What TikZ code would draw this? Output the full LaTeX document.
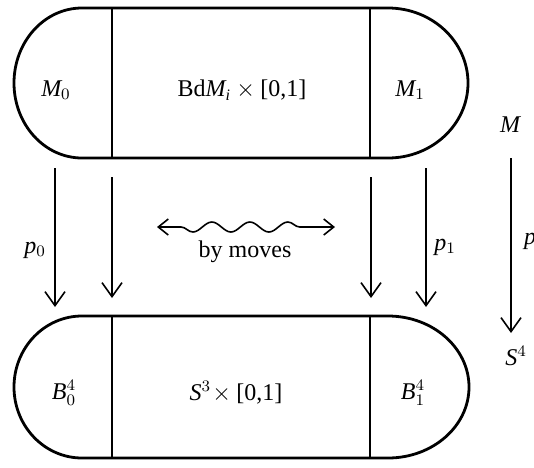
\documentclass[tikz,border=0pt]{standalone}
\usepackage{fontspec}
\setmainfont{Liberation Serif}
\DeclareSymbolFont{letters}{TU}{\rmdefault}{m}{it}
\DeclareSymbolFont{operators}{TU}{\rmdefault}{m}{n}
\usetikzlibrary{arrows.meta,decorations.pathmorphing}
\tikzset{
  outline/.style={line width=1.4pt},
  divider/.style={line width=0.8pt},
  lbl/.style={inner sep=1pt},
  proj/.style={line width=0.8pt, -{Straight Barb[length=7pt,width=10pt]}},
  moves/.style={line width=0.8pt, {Straight Barb[length=5pt,width=8pt]}-{Straight Barb[length=5pt,width=8pt]},
    decorate, decoration={snake, mirror, amplitude=2.5pt, segment length=19pt, pre length=12pt, post length=11pt}}
}
\begin{document}
\begin{tikzpicture}[x=0.5pt, y=-0.5pt, font=\fontsize{12}{14}\selectfont]
  \useasboundingbox (0,0) rectangle (534,467);
  % upper piece M
  \draw[outline] (82,8) -- (388,8) arc[start angle=-90, end angle=90, x radius=80, y radius=75]
    -- (82,158) arc[start angle=90, end angle=270, x radius=68, y radius=75] -- cycle;
  \draw[divider] (112,8) -- (112,158);
  \draw[divider] (370,8) -- (370,158);
  \node[lbl] (m0) at (56,90) {$M_0$};
  \node[lbl] (bdm) at (242,90) {Bd$M_i\times\mbox{[0,1]}$};
  \node[lbl] (m1) at (410,90) {$M_1$};
  % lower piece S^4
  \draw[outline] (82,316) -- (388,316) arc[start angle=-90, end angle=90, x radius=81, y radius=71]
    -- (82,458) arc[start angle=90, end angle=270, x radius=68, y radius=71] -- cycle;
  \draw[divider] (112,316) -- (112,458);
  \draw[divider] (370,316) -- (370,458);
  \node[lbl] (b0) at (64,393) {$B^4_0$};
  \node[lbl] (s3) at (236,393) {$S^3\!\times\mbox{[0,1]}$};
  \node[lbl] (b1) at (413,393) {$B^4_1$};
  % maps
  \coordinate (p0top) at (55,168);   \coordinate (p0bot) at (55,307);
  \coordinate (lftop) at (112,177);  \coordinate (lfbot) at (112,298);
  \coordinate (rttop) at (371,177);  \coordinate (rtbot) at (371,298);
  \coordinate (p1top) at (426,168);  \coordinate (p1bot) at (426,307);
  \draw[proj] (p0top) -- (p0bot);
  \draw[proj] (lftop) -- (lfbot);
  \draw[proj] (rttop) -- (rtbot);
  \draw[proj] (p1top) -- (p1bot);
  \node[lbl] (p0) at (35,250) {$p_0$};
  \node[lbl] (p1) at (445,247) {$p_1$};
  \coordinate (wl) at (157,227);
  \coordinate (wr) at (335,227);
  \draw[moves] (wl) -- (wr);
  \node[lbl] (bymoves) at (245,252) {by moves};
  % whole map
  \node[lbl] (mm) at (510,125) {$M$};
  \node[lbl] (s4) at (516,356) {$S^4$};
  \coordinate (mtop) at (511,158);
  \coordinate (mbot) at (511,333);
  \draw[proj] (mtop) -- (mbot);
  \node[lbl] (pp) at (530,241) {$p$};
\end{tikzpicture}
\end{document}
